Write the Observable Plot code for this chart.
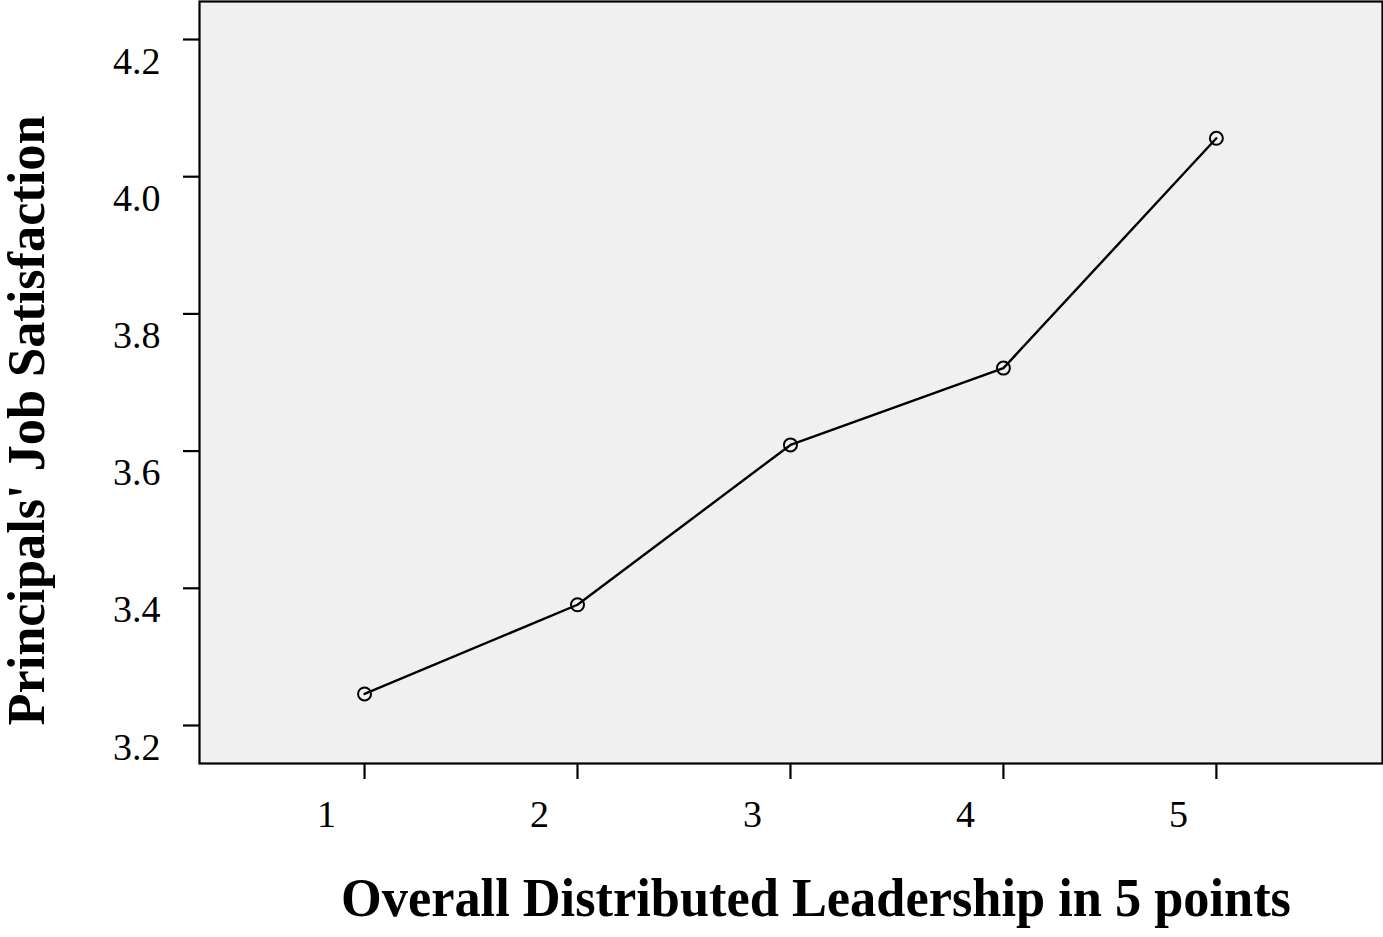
<!DOCTYPE html>
<html>
<head>
<meta charset="utf-8">
<script src="https://cdn.jsdelivr.net/npm/d3@7"></script>
<script src="https://cdn.jsdelivr.net/npm/@observablehq/plot@0.6"></script>
<style>
  html, body { margin: 0; padding: 0; background: #fff; }
  #chart svg { display: block; }
</style>
</head>
<body>
<div id="chart"></div>
<script>
const levels = [1, 2, 3, 4, 5];
const satisfaction = [3.246, 3.376, 3.609, 3.721, 4.056];
const yTicks = [3.2, 3.4, 3.6, 3.8, 4.0, 4.2];
const xTitle = "Overall Distributed Leadership in 5 points";
const yTitle = "Principals' Job Satisfaction";

const data = levels.map((x, i) => ({x, y: satisfaction[i]}));
const font = "'Liberation Serif', 'Times New Roman', serif";

const svg = Plot.plot({
  width: 1383,
  height: 937,
  marginLeft: 199,
  marginRight: 1,
  marginTop: 1,
  marginBottom: 174,
  style: {fontFamily: font, fontSize: "38px", color: "#000", background: "#fff", overflow: "visible"},
  x: {domain: [0.225, 5.78]},
  y: {domain: [3.1446, 4.2554]},
  marks: [
    Plot.frame({fill: "#f0f0f0", stroke: "#000", strokeWidth: 2.2}),
    // tick lines
    Plot.axisY(yTicks, {tickSize: 16, strokeWidth: 2.2, tickFormat: () => "", label: null}),
    Plot.axisX(levels, {tickSize: 16, strokeWidth: 2.2, tickFormat: () => "", label: null}),
    // tick labels (offset from the tick marks as in the reference)
    Plot.axisY(yTicks, {tickSize: 0, tickPadding: 39, dy: 22,
      tickFormat: d => d.toFixed(1), label: null, fontSize: 38}),
    Plot.axisX(levels, {tickSize: 0, tickPadding: 37, dx: -38,
      tickFormat: d => String(d), label: null, fontSize: 38}),
    Plot.line(data, {x: "x", y: "y", stroke: "#000", strokeWidth: 2.4}),
    Plot.dot(data, {x: "x", y: "y", r: 6.5, stroke: "#000", strokeWidth: 2, fill: "none"}),
    Plot.text([xTitle], {text: d => d, frameAnchor: "bottom", dx: 25, dy: 152,
      fontSize: 55, fontWeight: "bold", textAnchor: "middle", lineAnchor: "bottom"}),
    Plot.text([yTitle], {text: d => d, frameAnchor: "left", dx: -172, dy: 38, rotate: -90,
      fontSize: 52, fontWeight: "bold", textAnchor: "middle", lineAnchor: "middle"})
  ]
});

d3.select(svg).selectAll("text").each(function() {
  const t = this.textContent;
  if (t === xTitle) { this.setAttribute("textLength", 950); this.setAttribute("lengthAdjust", "spacingAndGlyphs"); }
  if (t === yTitle) { this.setAttribute("textLength", 610); this.setAttribute("lengthAdjust", "spacingAndGlyphs"); }
});

document.getElementById("chart").appendChild(svg);
</script>
</body>
</html>
